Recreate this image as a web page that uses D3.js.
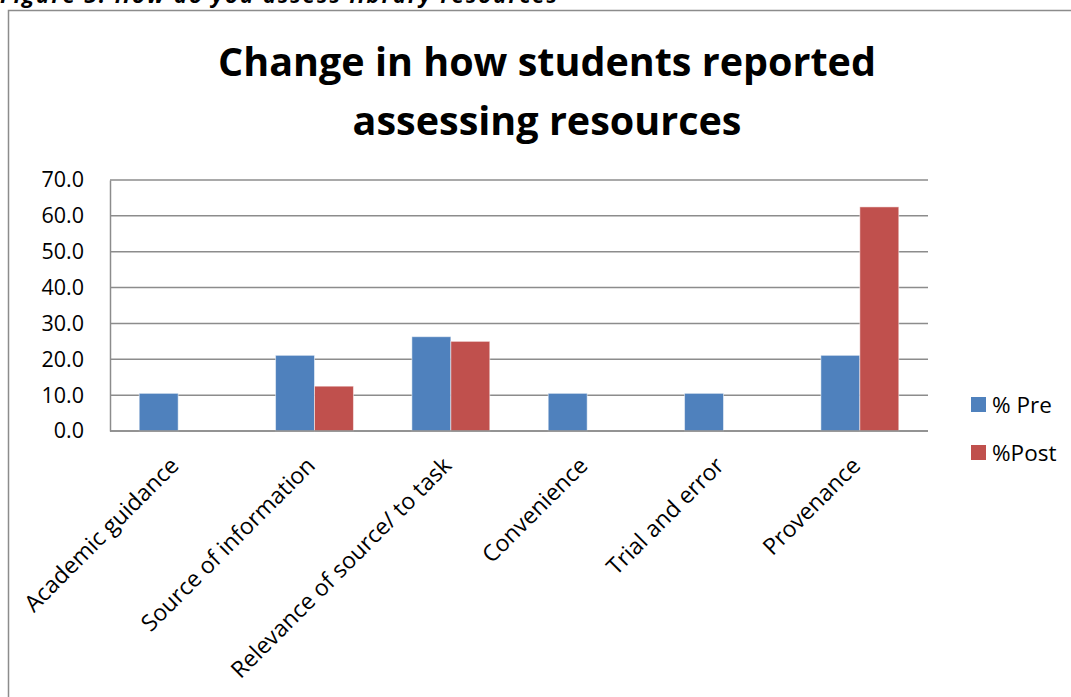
<!DOCTYPE html>
<html>
<head>
<meta charset="utf-8">
<script src="https://cdn.jsdelivr.net/npm/d3@7"></script>
<style>
  body { margin: 0; background: #fff; }
  svg { display: block; }
  text { font-family: "Open Sans", Lato, sans-serif; fill: #000; }
</style>
</head>
<body>
<div id="chart"></div>
<script>
// Chart data
var categories = ["Academic guidance", "Source of information", "Relevance of source/ to task",
  "Convenience", "Trial and error", "Provenance"];
var preValues = [10.5, 21.1, 26.3, 10.5, 10.5, 21.1];
var postValues = [0, 12.5, 25.0, 0, 0, 62.5];
var seriesNames = ["% Pre", "%Post"];
var yTicks = [0, 10, 20, 30, 40, 50, 60, 70];

var Chart_Width = 1071;
var Chart_Height = 697;

var margin = { top: 180, left: 110, right: 143, bottom: 266 };
var width = Chart_Width - margin.left - margin.right;
var height = Chart_Height - margin.top - margin.bottom;

var colors = ["#4F81BD", "#C0504D"];

var svg = d3.select("#chart")
  .append("svg")
  .attr("width", Chart_Width)
  .attr("height", Chart_Height);

// caption above the chart box (cut at the top edge, as in the source)
svg.append("text")
  .attr("x", 0)
  .attr("y", 3)
  .attr("font-size", "22px")
  .attr("font-weight", "bold")
  .attr("font-style", "italic")
  .attr("textLength", 557)
  .text("Figure 3: How do you assess library resources");

// chart area border
svg.append("rect")
  .attr("x", 8.5)
  .attr("y", 10.5)
  .attr("width", 1080)
  .attr("height", 720)
  .attr("fill", "none")
  .attr("stroke", "#8c8c8c")
  .attr("stroke-width", 1.5);

// title
var title = svg.append("text")
  .attr("text-anchor", "middle")
  .attr("font-size", "39.5px")
  .attr("font-weight", "bold");
title.append("tspan").attr("x", 547).attr("y", 76).text("Change in how students reported");
title.append("tspan").attr("x", 547).attr("y", 135).text("assessing resources");

var plot = svg.append("g")
  .attr("transform", `translate(${margin.left}, ${margin.top})`);

var x0 = d3.scaleBand()
  .domain(categories)
  .range([0, width]);

var bw = x0.bandwidth() / 3.5;

var yScale = d3.scaleLinear()
  .domain([0, 70])
  .range([height, 0]);

// gridlines
plot.append("g")
  .selectAll("line")
  .data(yTicks)
  .enter()
  .append("line")
  .attr("x1", 0)
  .attr("x2", width)
  .attr("y1", d => yScale(d))
  .attr("y2", d => yScale(d))
  .attr("stroke", "#8c8c8c")
  .attr("stroke-width", 1.5);

// y axis
var leftAxis = d3.axisLeft(yScale)
  .tickValues(yTicks)
  .tickFormat(d3.format(".1f"))
  .tickSize(0)
  .tickPadding(26);

var yAxis = plot.append("g").call(leftAxis);
yAxis.select(".domain").attr("stroke", "#8c8c8c").attr("stroke-width", 1.5);
yAxis.selectAll("text")
  .attr("font-size", "21.5px")
  .attr("font-family", "'Open Sans', Lato, sans-serif");

// bars
var series = [preValues, postValues];
series.forEach(function(vals, s) {
  plot.append("g")
    .selectAll("rect")
    .data(categories)
    .enter()
    .append("rect")
    .attr("x", d => x0(d) + x0.bandwidth() / 2 - bw + s * bw)
    .attr("y", (d, i) => yScale(vals[i]))
    .attr("width", bw)
    .attr("height", (d, i) => height - yScale(vals[i]))
    .attr("fill", colors[s])
    .attr("stroke", "rgba(255,255,255,0.5)")
    .attr("stroke-width", 1)
    .attr("display", (d, i) => vals[i] > 0 ? null : "none");
});

// x axis line
plot.append("line")
  .attr("x1", 0)
  .attr("x2", width)
  .attr("y1", height)
  .attr("y2", height)
  .attr("stroke", "#8c8c8c")
  .attr("stroke-width", 1.5);

// x labels rotated
plot.append("g")
  .selectAll("text")
  .data(categories)
  .enter()
  .append("text")
  .attr("transform", d => `translate(${x0(d) + x0.bandwidth() / 2 + 2}, ${height + 36}) rotate(-45)`)
  .attr("text-anchor", "end")
  .attr("font-size", "23px")
  .text(d => d);

// legend
var legend = svg.append("g")
  .attr("transform", "translate(971, 397)");

seriesNames.forEach(function(name, i) {
  legend.append("rect")
    .attr("x", 0)
    .attr("y", i * 48)
    .attr("width", 15)
    .attr("height", 15)
    .attr("fill", colors[i]);
  legend.append("text")
    .attr("x", 21)
    .attr("y", i * 48 + 16)
    .attr("font-size", "22.5px")
    .text(name);
});
</script>
</body>
</html>
